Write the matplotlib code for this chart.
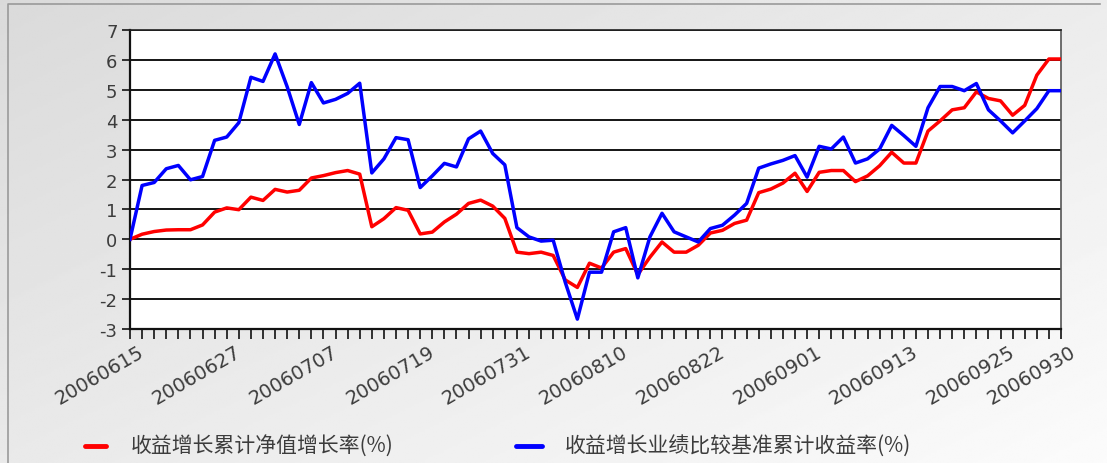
import matplotlib
matplotlib.use('Agg')
import matplotlib.pyplot as plt
import numpy as np
import pandas as pd
from matplotlib.transforms import ScaledTranslation
from matplotlib.lines import Line2D

# ---------------- data ----------------
dates = [d.strftime('%Y%m%d') for d in pd.bdate_range('2006-06-15', '2006-09-29')] + ['20060930']
label_dates = ['20060615', '20060627', '20060707', '20060719', '20060731', '20060810',
               '20060822', '20060901', '20060913', '20060925', '20060930']

fund_nav = [0.00, 0.17, 0.26, 0.31, 0.32, 0.32, 0.48, 0.91, 1.05, 0.99,
            1.41, 1.30, 1.67, 1.58, 1.64, 2.05, 2.13, 2.23, 2.30, 2.18,
            0.42, 0.69, 1.06, 0.97, 0.18, 0.24, 0.58, 0.84, 1.20, 1.31,
            1.11, 0.70, -0.43, -0.48, -0.43, -0.54, -1.36, -1.61, -0.80, -0.96,
            -0.43, -0.31, -1.18, -0.60, -0.09, -0.43, -0.43, -0.20, 0.21, 0.30,
            0.53, 0.64, 1.56, 1.68, 1.88, 2.21, 1.60, 2.24, 2.30, 2.30,
            1.93, 2.12, 2.46, 2.91, 2.55, 2.55, 3.62, 3.96, 4.33, 4.40,
            4.93, 4.71, 4.63, 4.15, 4.48, 5.49, 6.03, 6.03]

benchmark = [0.00, 1.80, 1.90, 2.36, 2.47, 1.99, 2.10, 3.31, 3.42, 3.90,
             5.42, 5.28, 6.20, 5.10, 3.84, 5.24, 4.56, 4.68, 4.88, 5.22,
             2.22, 2.69, 3.40, 3.33, 1.73, 2.12, 2.54, 2.42, 3.36, 3.62,
             2.87, 2.49, 0.39, 0.08, -0.06, -0.03, -1.44, -2.67, -1.10, -1.10,
             0.25, 0.39, -1.29, 0.08, 0.87, 0.25, 0.08, -0.09, 0.36, 0.47,
             0.81, 1.20, 2.38, 2.52, 2.64, 2.80, 2.08, 3.11, 3.02, 3.42,
             2.55, 2.69, 3.02, 3.81, 3.47, 3.11, 4.40, 5.11, 5.11, 4.97,
             5.21, 4.33, 3.96, 3.56, 3.96, 4.37, 4.97, 4.97]

series_names = ['收益增长累计净值增长率(%)', '收益增长业绩比较基准累计收益率(%)']
y_ticks = list(range(-3, 8))

# ---------------- figure ----------------
W, H = 1107, 464
fig = plt.figure(figsize=(W / 100, H / 100), dpi=100)

# background gradient
bg = fig.add_axes([0, 0, 1, 1])
bg.set_axis_off()
yy, xx = np.mgrid[0:1:200j, 0:1:400j]
grad = 0.855 + 0.07 * xx + 0.06 * yy
bg.imshow(grad, cmap='gray', vmin=0, vmax=1, extent=[0, 1, 0, 1],
          aspect='auto', origin='upper', zorder=0)
bg.set_xlim(0, 1)
bg.set_ylim(0, 1)
bg.plot([8 / W, 8 / W, 1100 / W], [0, 1 - 5 / H, 1 - 5 / H], color='#9a9a9a', lw=1.2)

ax = fig.add_axes([130 / W, (H - 330) / H, 931 / W, 299 / H])
ax.set_facecolor('white')
x = np.arange(len(dates))

ax.plot(x, fund_nav, color='#ff0000', lw=2.5, solid_joinstyle='round', zorder=3)
ax.plot(x, benchmark, color='#0000ff', lw=2.5, solid_joinstyle='round', zorder=3)

ax.set_xlim(0, len(dates) - 1)
ax.set_ylim(-3, 7)
ax.set_yticks(y_ticks)
ax.set_yticklabels([str(v) for v in y_ticks])
ax.yaxis.grid(True, color='#141414', lw=1.4)
ax.set_axisbelow(True)

ax.set_xticks(x)
ax.set_xticklabels([d if d in label_dates else '' for d in dates])

for s in ['left', 'bottom']:
    ax.spines[s].set_color('#111111')
    ax.spines[s].set_linewidth(1.6)
ax.spines['right'].set_color('#555555')
ax.spines['right'].set_linewidth(1.2)
ax.spines['top'].set_color('#222222')
ax.spines['top'].set_linewidth(1.2)

ax.tick_params(axis='x', direction='out', length=7, width=1.3, color='#222222',
               labelsize=14, labelcolor='#3c3c3c', pad=2)
ax.tick_params(axis='y', direction='out', length=6, width=1.3, color='#222222',
               labelsize=13, labelcolor='#3c3c3c', pad=3)

offset = ScaledTranslation(8 / 100, 0, fig.dpi_scale_trans)
for lab in ax.get_xticklabels():
    lab.set_rotation(30)
    lab.set_ha('right')
    lab.set_va('top')
    lab.set_rotation_mode('anchor')
    lab.set_transform(lab.get_transform() + offset)

# legend (manual)
cjk = ['Noto Sans CJK SC', 'DejaVu Sans']
ly = 1 - 447 / H
for (x0, x1, tx), col, name in zip([(85, 106, 131), (516, 542, 565)],
                                   ['#ff0000', '#0000ff'], series_names):
    fig.add_artist(Line2D([x0 / W, x1 / W], [ly, ly], color=col, lw=3.5,
                          solid_capstyle='round', transform=fig.transFigure))
    fig.text(tx / W, ly, name, va='center', ha='left', fontsize=15,
             family=cjk, color='#3c3c3c')

fig.savefig('out.png', dpi=100)
